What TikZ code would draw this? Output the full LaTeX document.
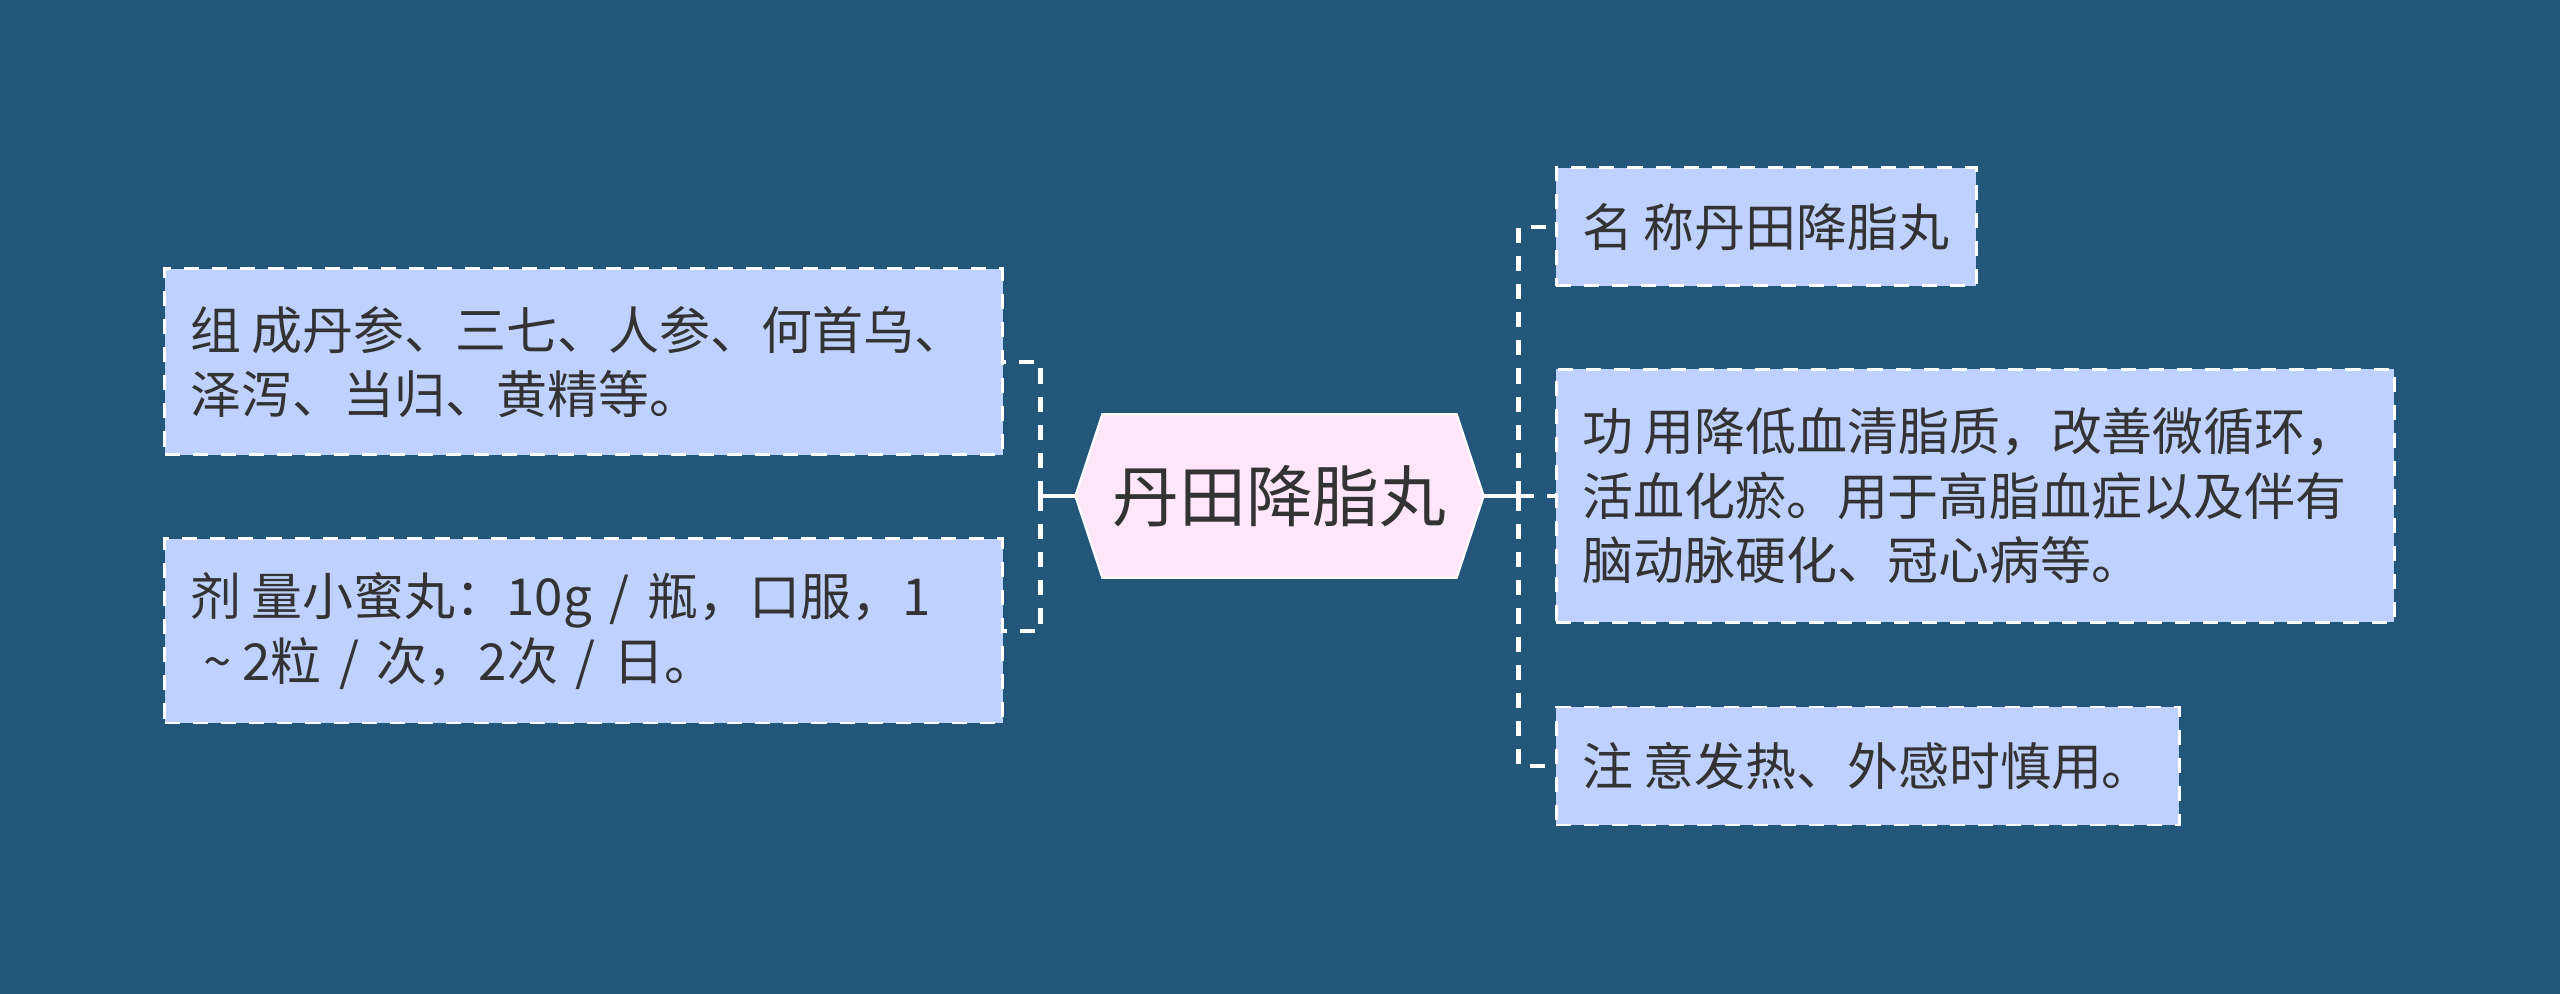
\documentclass[tikz,border=0pt]{standalone}
\usepackage{fontspec}
\setmainfont{Noto Sans CJK SC}
\usepackage{xcolor}
\usepackage{tikz}
\usetikzlibrary{positioning, backgrounds, calc}
\definecolor{bgblue}{RGB}{35,87,122}
\definecolor{leafblue}{RGB}{191,210,255}
\definecolor{topicpink}{RGB}{255,230,251}
\definecolor{textgray}{RGB}{51,51,51}
\newcommand{\tgap}{\hspace{0.2em}}
\newcommand{\sgap}{\hspace{0.35em}}
\tikzset{
  % Mind map styles
  topic/.style={rectangle, minimum width=4.07cm, minimum height=1.62cm, inner sep=0pt, text=textgray, font=\fontsize{19pt}{23pt}\selectfont},
  leaf/.style={rectangle, draw=white, fill=leafblue, line width=0.85pt, dash pattern=on 4.3pt off 3.7pt, text width=#1, align=left, inner xsep=0.26cm, inner ysep=0pt, text=textgray, font=\fontsize{14.5pt}{18.3pt}\selectfont},
  leaf/.default={7.86cm},
  link/.style={draw=white, line width=1.3pt, dash pattern=on 4.3pt off 3.7pt},
  stub/.style={draw=white, line width=1.3pt},
}
\begin{document}
\begin{tikzpicture}
    % Title
    \node[topic] (title) at (12.795,-4.96) {丹田降脂丸};

    % Left branch
    \node[leaf, minimum height=1.86cm, left=0.71cm of title, yshift=1.34cm] (zucheng) {组\tgap 成丹参、三七、人参、何首乌、\\泽泻、当归、黄精等。};
    \node[leaf, minimum height=1.84cm, left=0.71cm of title, yshift=-1.35cm] (jiliang) {剂\tgap 量小蜜丸：10g\sgap/\sgap 瓶，口服，1\\\hspace*{0.25em}\textasciitilde\tgap 2粒\sgap/\sgap 次，2次\sgap/\sgap 日。};

    % Right branch
    \node[leaf=3.68cm, minimum height=1.18cm, right=0.71cm of title, yshift=2.69cm] (mingcheng) {名\tgap 称丹田降脂丸};
    \node[leaf, minimum height=2.53cm, right=0.71cm of title] (gongyong) {功\tgap 用降低血清脂质，改善微循环，\\活血化瘀。用于高脂血症以及伴有\\脑动脉硬化、冠心病等。};
    \node[leaf=5.71cm, minimum height=1.18cm, right=0.71cm of title, yshift=-2.70cm] (zhuyi) {注\tgap 意发热、外感时慎用。};

    % Background and hexagon
    \begin{scope}[on background layer]
      \fill[bgblue] (0,0) rectangle (25.6,-9.94);
      \filldraw[fill=topicpink, draw=white, line width=0.6pt] (title.west) -- ([xshift=0.27cm]title.north west) -- ([xshift=-0.27cm]title.north east) -- (title.east) -- ([xshift=-0.27cm]title.south east) -- ([xshift=0.27cm]title.south west) -- cycle;
    \end{scope}

% === Links ===
    \coordinate (ljoin) at ([xshift=-0.35cm]title.west);
    \coordinate (rjoin) at ([xshift=0.35cm]title.east);
    \draw[stub] (title.west) -- (ljoin);
    \draw[stub] (title.east) -- (rjoin);
    % Left
    \draw[link] (ljoin) |- (zucheng.east);
    \draw[link] (ljoin) |- (jiliang.east);
    % Right
    \draw[link] (rjoin) |- (mingcheng.west);
    \draw[link] (rjoin) |- (gongyong.west);
    \draw[link] (rjoin) |- (zhuyi.west);
  \end{tikzpicture}
\end{document}
